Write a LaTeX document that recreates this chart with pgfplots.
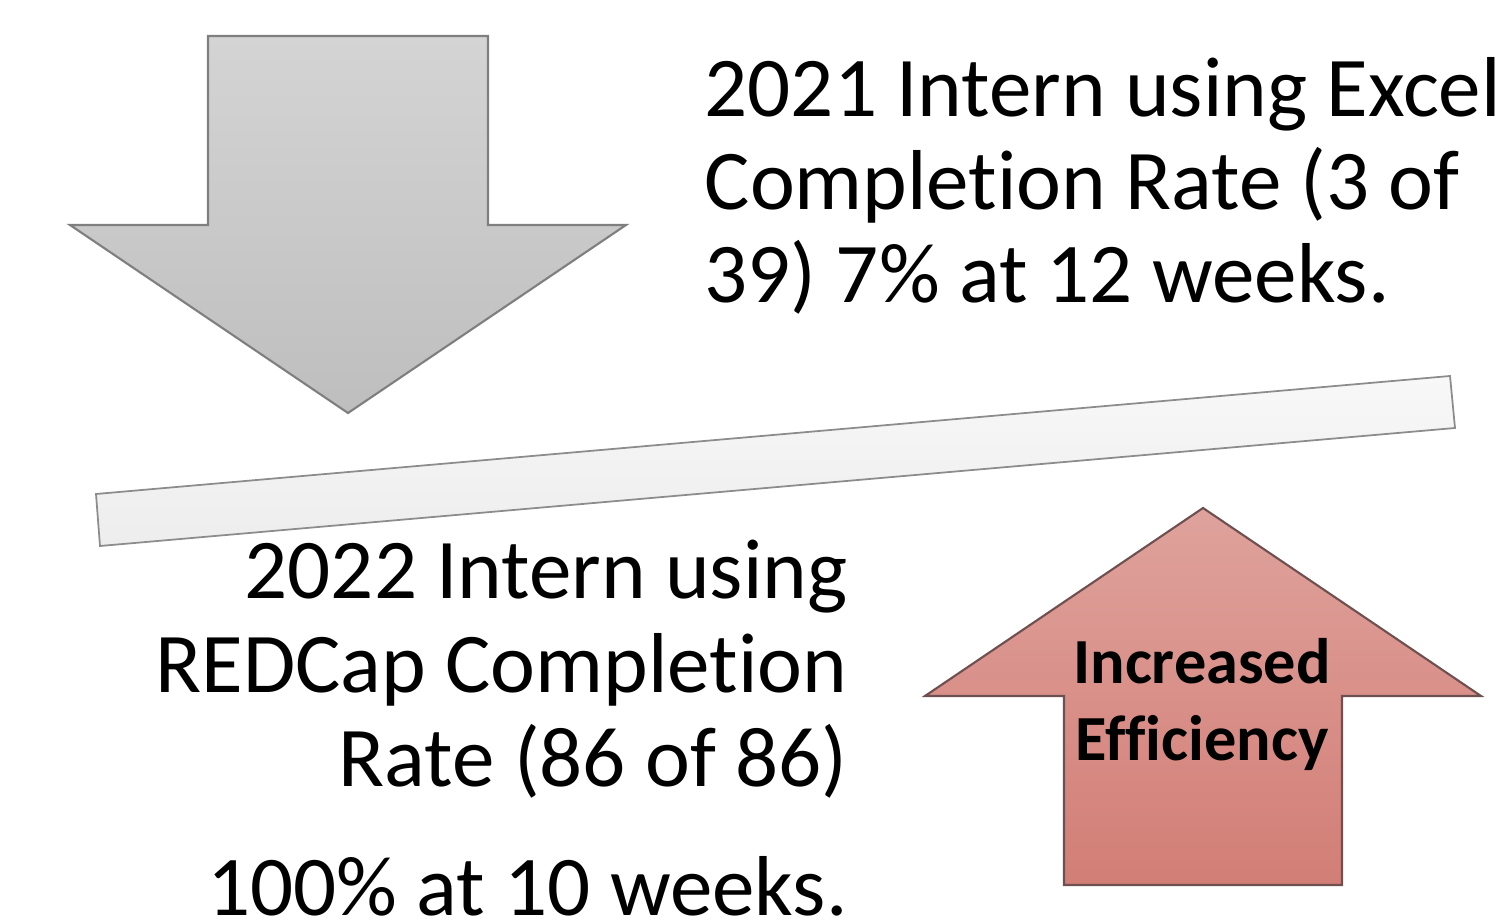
\documentclass[border=0pt]{standalone}
\usepackage{pgfplots}
\pgfplotsset{compat=1.18}
\usepackage{fontspec}
\setmainfont[Ligatures=NoCommon]{Carlito}
\definecolor{graytop}{HTML}{D4D4D4}
\definecolor{graybot}{HTML}{BEBEBE}
\definecolor{grayedge}{HTML}{7F7F7F}
\definecolor{bartop}{HTML}{F8F8F8}
\definecolor{barbot}{HTML}{EDEDED}
\definecolor{baredge}{HTML}{8C8C8C}
\definecolor{redtop}{HTML}{DFA29C}
\definecolor{redbot}{HTML}{D27E76}
\definecolor{rededge}{HTML}{6E5050}
\begin{document}
\begin{tikzpicture}
\begin{axis}[
  width=15.04cm, height=9.21cm, scale only axis,
  xmin=0, xmax=1504, ymin=0, ymax=921, y dir=reverse,
  hide axis, clip=false,
]
% down arrow (grey)
\addplot[draw=grayedge, line width=0.6pt, top color=graytop, bottom color=graybot, mark=none]
  coordinates {(208,36) (488,36) (488,225) (626,225) (348,413) (70,225) (208,225)} -- cycle;
% tilted bar
\addplot[draw=baredge, line width=0.5pt, top color=bartop, bottom color=barbot, mark=none]
  coordinates {(96,494) (1450,376) (1455,428) (100,546)} -- cycle;
% up arrow (red)
\addplot[draw=rededge, line width=0.6pt, top color=redtop, bottom color=redbot, mark=none]
  coordinates {(1203,508) (1481,696) (1342,696) (1342,885) (1064,885) (1064,696) (925,696)} -- cycle;

\begin{scope}[every node/.style={inner sep=0pt, font=\fontsize{24.2pt}{27pt}\selectfont}]
\node[anchor=base west] at (axis cs:704,117) {2021 Intern using Excel};
\node[anchor=base west] at (axis cs:704,210) {Completion Rate (3 of};
\node[anchor=base west] at (axis cs:704,303) {39) 7\% at 12 weeks.};
\node[anchor=base east] at (axis cs:848,598) {2022 Intern using};
\node[anchor=base east] at (axis cs:848,692) {REDCap Completion};
\node[anchor=base east] at (axis cs:848,786) {Rate (86 of 86)};
\node[anchor=base east] at (axis cs:848,915) {100\% at 10 weeks.};
\end{scope}
\begin{scope}[every node/.style={inner sep=0pt, font=\fontsize{18.3pt}{22pt}\selectfont\bfseries}]
\node[anchor=base] at (axis cs:1202,683) {Increased};
\node[anchor=base] at (axis cs:1202,760) {Efficiency};
\end{scope}
\end{axis}
\pgfresetboundingbox
\path (current axis.south west) rectangle (current axis.north east);
\end{tikzpicture}
\end{document}
